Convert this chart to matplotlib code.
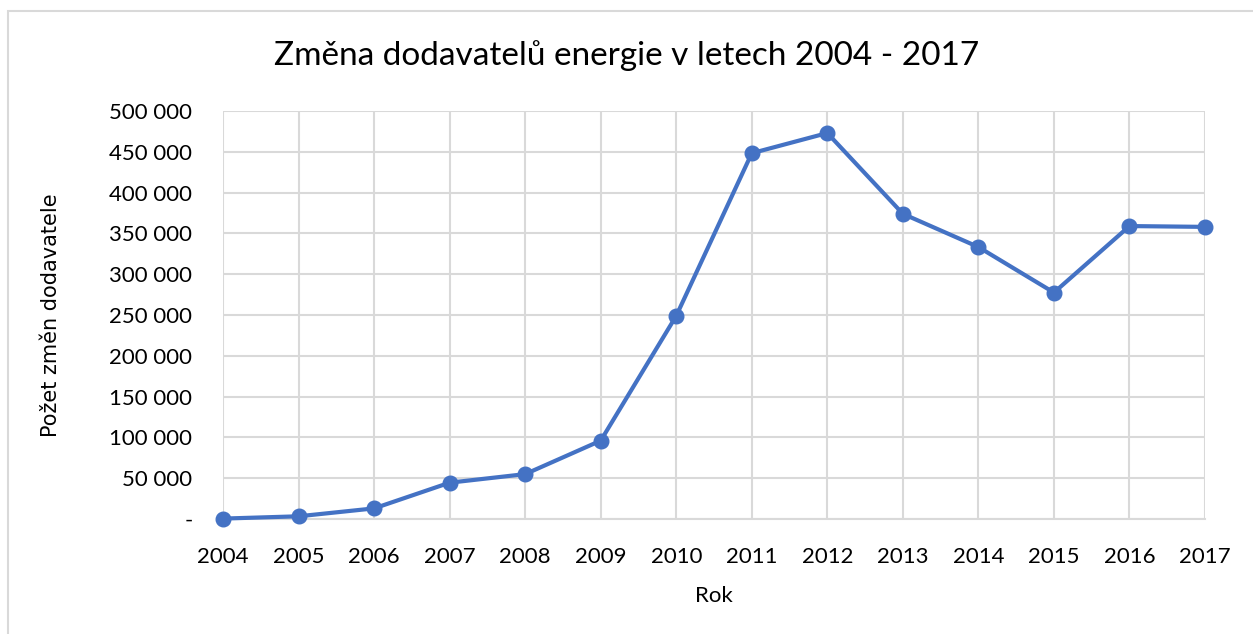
import matplotlib.pyplot as plt
from matplotlib.ticker import FuncFormatter
from matplotlib.patches import Rectangle

years = [2004, 2005, 2006, 2007, 2008, 2009, 2010, 2011, 2012, 2013, 2014, 2015, 2016, 2017]
changes = [500, 3300, 13000, 44500, 55000, 96000, 249000, 448300, 473000,
           374000, 333300, 277500, 359000, 358000]

plt.rcParams['font.family'] = ['Lato', 'DejaVu Sans']

fig = plt.figure(figsize=(12.53, 6.34), dpi=100)
ax = fig.add_axes([0.178, 0.1814, 0.7837, 0.6435])

ax.plot(years, changes, color="#4472C4", linewidth=3, marker="o",
        markersize=10.5, clip_on=False, zorder=3)

ax.set_xlim(2004, 2017)
ax.set_ylim(0, 500000)
ax.set_xticks(years)
ax.set_yticks(range(0, 500001, 50000))


def fmt(v, pos):
    if v == 0:
        return "-"
    return "{:,.0f}".format(v).replace(",", " ")


ax.yaxis.set_major_formatter(FuncFormatter(fmt))
ax.grid(True, color="#d9d9d9", linewidth=1.5)
ax.set_axisbelow(True)
for side in ["top", "right", "left"]:
    ax.spines[side].set_visible(False)
ax.spines["bottom"].set_color("#d9d9d9")
ax.spines["bottom"].set_linewidth(1.5)
ax.tick_params(length=0, labelsize=16, colors="black")
ax.tick_params(axis="x", pad=20)
ax.tick_params(axis="y", pad=22)

ax.set_xlabel("Rok", fontsize=16, labelpad=14)
ax.set_ylabel("Požet změn dodavatele", fontsize=15, labelpad=35,
              family=["DejaVu Sans"])
fig.text(0.5, 0.913, "Změna dodavatelů energie v letech 2004 - 2017",
         fontsize=24, ha="center", va="center")

fig.patches.append(Rectangle((0.006, -0.02), 1.0, 1.0026, transform=fig.transFigure,
                             fill=False, edgecolor="#d9d9d9", linewidth=1.5))

fig.savefig("out.png", dpi=100)
